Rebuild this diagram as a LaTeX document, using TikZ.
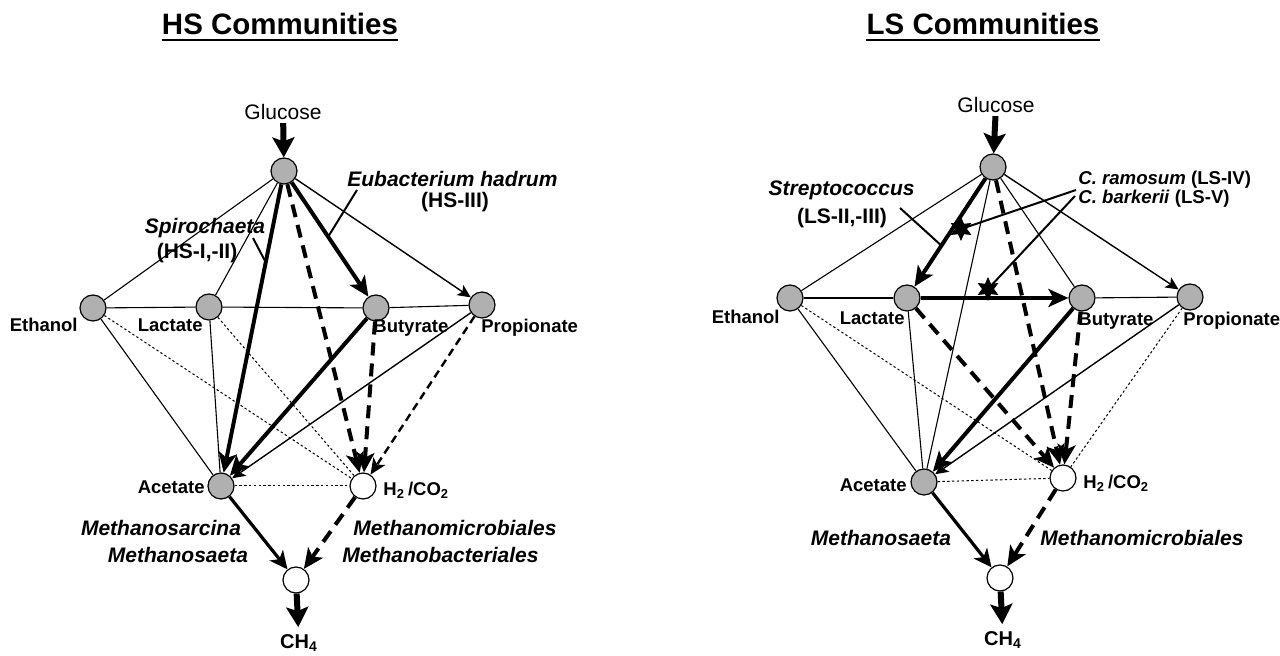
\documentclass[tikz,border=0pt]{standalone}
\usepackage{fontspec}
\setmainfont{Liberation Sans}
\usetikzlibrary{arrows.meta,shapes.geometric,calc}
\begin{document}
\begin{tikzpicture}[x=0.5pt,y=-0.5pt,
  sub/.style={circle,draw=black,line width=0.6pt,fill=gray!62,minimum size=13pt,inner sep=0pt},
  open/.style={circle,draw=black,line width=0.6pt,fill=white,minimum size=13pt,inner sep=0pt},
  lbl/.style={font=\fontsize{9.25}{11}\selectfont\bfseries,inner sep=0pt},
  org/.style={font=\fontsize{10.5}{12}\selectfont\bfseries\itshape,inner sep=0pt},
  tag/.style={font=\fontsize{10.5}{12}\selectfont\bfseries,inner sep=0pt},
  ctag/.style={font=\fontsize{9.3}{11}\selectfont\bfseries,inner sep=0pt},
  chl/.style={font=\fontsize{10}{12}\selectfont\bfseries,inner sep=0pt},
  gl/.style={font=\fontsize{10.5}{12}\selectfont,inner sep=0pt},
  ttl/.style={font=\fontsize{14.75}{17}\selectfont\bfseries,inner sep=0pt},
  thinl/.style={line width=0.55pt},
  dotl/.style={line width=0.5pt,dash pattern=on 1.2pt off 1.2pt},
  thickarr/.style={line width=2pt,-{Stealth[length=10pt,width=9pt,inset=2.5pt]}},
  thinarr/.style={line width=0.7pt,-{Stealth[length=6.5pt,width=6pt,inset=1.5pt]}},
  dasharr/.style={line width=2pt,dash pattern=on 6.5pt off 4pt,-{Stealth[length=10pt,width=9pt,inset=2.5pt]}},
  meddasharr/.style={line width=1.2pt,dash pattern=on 4pt off 2.5pt,-{Stealth[length=8pt,width=7pt,inset=2pt]}},
  medarr/.style={line width=1.6pt,-{Stealth[length=9pt,width=8.5pt,inset=2.5pt]}},
  bigarr/.style={line width=3pt,-{Stealth[length=10pt,width=11pt,inset=2pt]}},
  leader/.style={line width=1pt},
  starmark/.style={star,star points=6,star point ratio=2,fill=black,draw=black,minimum size=11pt,inner sep=0pt}
]
\useasboundingbox (0,0) rectangle (1280,656);

% ---------- titles ----------
\node[ttl,anchor=base] (t1) at (280,35) {HS Communities};
\node[ttl,anchor=base] (t2) at (983,35) {LS Communities};
\draw[line width=1.3pt] ([yshift=-2.6pt]t1.base west) -- ([yshift=-2.6pt]t1.base east);
\draw[line width=1.3pt] ([yshift=-2.6pt]t2.base west) -- ([yshift=-2.6pt]t2.base east);

% ---------- HS nodes ----------
\node[sub] (G1) at (284,171) {};
\node[sub] (E1) at (93,308) {};
\node[sub] (L1) at (209,307) {};
\node[sub] (B1) at (376,308) {};
\node[sub] (P1) at (482,305) {};
\node[sub] (A1) at (221,486) {};
\node[open] (H1) at (363,486) {};
\node[open] (M1) at (296,580) {};

\node[gl] (gt1) at (283,112) {Glucose};
\node[chl] (ch1) at (299,643) {CH\textsubscript{4}};
\node[lbl,anchor=east] (le1) at (78,325) {Ethanol};
\node[lbl,anchor=east] (ll1) at (203,325) {Lactate};
\node[lbl,anchor=west] (lb1) at (373,328) {Butyrate};
\node[lbl,anchor=west] (lp1) at (481,328) {Propionate};
\node[lbl,anchor=east] (la1) at (205,487) {Acetate};
\node[lbl,anchor=west] (lh1) at (383,490) {H\textsubscript{2}\,/CO\textsubscript{2}};

\node[org] (sp) at (205,228) {Spirochaeta};
\node[tag] (sptag) at (197,253) {(HS-I,-II)};
\node[org,anchor=west] (eu) at (347,179) {Eubacterium hadrum};
\node[tag] (eutag) at (455,202) {(HS-III)};
\node[org] (msc) at (161,528) {Methanosarcina};
\node[org] (mst1) at (178,555) {Methanosaeta};
\node[org,anchor=west] (mmi1) at (353,528) {Methanomicrobiales};
\node[org,anchor=west] (mba) at (342,555) {Methanobacteriales};

% HS connectors
\draw[thinl] (G1)--(E1);
\draw[thinl] (G1)--(L1);
\draw[thinl] (E1)--(L1);
\draw[thinl] (L1)--(B1);
\draw[thinl] (B1)--(P1);
\draw[thinl] (E1)--(A1);
\draw[thinl] (L1)--(A1);
\draw[dotl] (E1)--(H1);
\draw[dotl] (L1)--(H1);
\draw[dotl] (A1)--(H1);
\draw[thickarr] (G1)--(A1);
\draw[thickarr] (G1)--(B1);
\draw[thickarr] (B1)--(A1);
\draw[thinarr] (G1)--(P1);
\draw[thinarr] (P1)--(A1);
\draw[dasharr] (G1)--(H1);
\draw[dasharr] (B1)--(H1);
\draw[meddasharr] (P1)--(H1);
\draw[medarr] (A1)--(M1);
\draw[dasharr] (H1)--(M1);
\draw[bigarr,shorten <=1.5pt] (gt1)--(G1);
\draw[bigarr,shorten >=3.5pt] (M1)--(ch1);

% HS leaders
\coordinate (spa) at (253,238);
\coordinate (spb) at ($(G1)!0.29!(A1)$);
\draw[leader] (spa)--(spb);
\coordinate (eua) at (357,190);
\coordinate (eub) at ($(G1)!0.48!(B1)$);
\draw[leader] (eua)--(eub);

% ---------- LS nodes ----------
\node[sub] (G2) at (993,167) {};
\node[sub] (E2) at (790,298) {};
\node[sub] (L2) at (907,298) {};
\node[sub] (B2) at (1082,298) {};
\node[sub] (P2) at (1190,297) {};
\node[sub] (A2) at (924,482) {};
\node[open] (H2) at (1063,478) {};
\node[open] (M2) at (1000,578) {};

\node[gl] (gt2) at (996,105) {Glucose};
\node[chl] (ch2) at (1003,640) {CH\textsubscript{4}};
\node[lbl,anchor=east] (le2) at (780,317) {Ethanol};
\node[lbl,anchor=east] (ll2) at (905,318) {Lactate};
\node[lbl,anchor=west] (lb2) at (1078,321) {Butyrate};
\node[lbl,anchor=west] (lp2) at (1183,321) {Propionate};
\node[lbl,anchor=east] (la2) at (907,485) {Acetate};
\node[lbl,anchor=west] (lh2) at (1083,483) {H\textsubscript{2}\,/CO\textsubscript{2}};

\node[org,anchor=east] (st) at (915,190) {Streptococcus};
\node[tag] (sttag) at (842,218) {(LS-II,-III)};
\node[ctag,anchor=west] (cr) at (1078,180) {\textit{C. ramosum} (LS-IV)};
\node[ctag,anchor=west] (cb) at (1078,199) {\textit{C. barkerii} (LS-V)};
\node[org] (mst2) at (881,538) {Methanosaeta};
\node[org,anchor=west] (mmi2) at (1040,538) {Methanomicrobiales};

% LS connectors
\draw[thinl] (G2)--(E2);
\draw[thinl] (G2)--(B2);
\draw[thinl] (G2)--(A2);
\draw[thinl] (E2)--(L2);
\draw[thinl] (B2)--(P2);
\draw[thinl] (E2)--(A2);
\draw[thinl] (L2)--(A2);
\draw[dotl] (E2)--(H2);
\draw[dotl] (P2)--(H2);
\draw[dotl] (A2)--(H2);
\draw[thickarr] (G2)--(L2);
\draw[thickarr] (L2)--(B2);
\draw[thickarr] (B2)--(A2);
\draw[thinarr] (G2)--(P2);
\draw[thinarr] (P2)--(A2);
\draw[dasharr] (G2)--(H2);
\draw[dasharr] (L2)--(H2);
\draw[dasharr] (B2)--(H2);
\draw[medarr] (A2)--(M2);
\draw[dasharr] (H2)--(M2);
\draw[bigarr,shorten <=1.5pt] (gt2)--(G2);
\draw[bigarr,shorten >=3.5pt] (M2)--(ch2);

% LS leaders and stars
\coordinate (sta) at (900,208);
\coordinate (stb) at ($(G2)!0.6!(L2)$);
\draw[leader] (sta)--(stb);
\node[starmark] (s1) at (961,229) {};
\node[starmark] (s2) at (988,289) {};
\coordinate (cra) at (1076,190);
\coordinate (cba) at (1075,196);
\draw[leader] (cra)--(s1.center);
\draw[leader] (cba)--(s2.center);
\end{tikzpicture}
\end{document}
